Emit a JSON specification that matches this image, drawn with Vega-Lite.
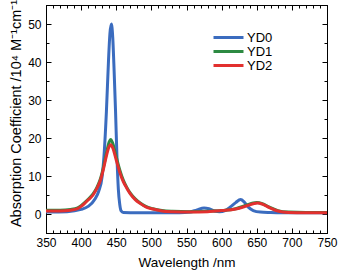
{
  "$schema": "https://vega.github.io/schema/vega-lite/v6.json",
  "width": 281,
  "height": 228,
  "autosize": {"type": "none"},
  "padding": {"left": 46, "top": 5, "right": 11, "bottom": 38},
  "background": "white",
  "config": {
    "font": "Liberation Sans",
    "view": {"stroke": "black", "strokeWidth": 1},
    "axis": {
      "domainColor": "black",
      "tickColor": "black",
      "labelColor": "black",
      "titleColor": "black",
      "labelFont": "Liberation Sans",
      "titleFont": "Liberation Sans",
      "labelFontSize": 12,
      "titleFontSize": 13.5,
      "titleFontWeight": "normal",
      "grid": false,
      "tickWidth": 1
    }
  },
  "data": {
    "values": [
      {"series": "YD0", "wl": 350, "abs": 0.5},
      {"series": "YD0", "wl": 380, "abs": 0.6},
      {"series": "YD0", "wl": 400, "abs": 1.2},
      {"series": "YD0", "wl": 410, "abs": 2.0},
      {"series": "YD0", "wl": 420, "abs": 4.0},
      {"series": "YD0", "wl": 425, "abs": 6.0},
      {"series": "YD0", "wl": 430, "abs": 10.0},
      {"series": "YD0", "wl": 433, "abs": 16.5},
      {"series": "YD0", "wl": 436, "abs": 27.0},
      {"series": "YD0", "wl": 439, "abs": 40.5},
      {"series": "YD0", "wl": 441, "abs": 47.5},
      {"series": "YD0", "wl": 443, "abs": 50.0},
      {"series": "YD0", "wl": 445, "abs": 46.5},
      {"series": "YD0", "wl": 447, "abs": 37.5},
      {"series": "YD0", "wl": 449, "abs": 27.0},
      {"series": "YD0", "wl": 451, "abs": 15.0},
      {"series": "YD0", "wl": 453, "abs": 6.5},
      {"series": "YD0", "wl": 455, "abs": 2.5},
      {"series": "YD0", "wl": 457, "abs": 0.8},
      {"series": "YD0", "wl": 460, "abs": 0.4},
      {"series": "YD0", "wl": 480, "abs": 0.3},
      {"series": "YD0", "wl": 500, "abs": 0.3},
      {"series": "YD0", "wl": 540, "abs": 0.3},
      {"series": "YD0", "wl": 555, "abs": 0.5},
      {"series": "YD0", "wl": 565, "abs": 1.1},
      {"series": "YD0", "wl": 575, "abs": 1.6},
      {"series": "YD0", "wl": 582, "abs": 1.4},
      {"series": "YD0", "wl": 590, "abs": 0.8},
      {"series": "YD0", "wl": 597, "abs": 0.6},
      {"series": "YD0", "wl": 605, "abs": 0.9},
      {"series": "YD0", "wl": 612, "abs": 1.8},
      {"series": "YD0", "wl": 620, "abs": 3.0},
      {"series": "YD0", "wl": 627, "abs": 3.8},
      {"series": "YD0", "wl": 632, "abs": 3.2},
      {"series": "YD0", "wl": 638, "abs": 1.8},
      {"series": "YD0", "wl": 645, "abs": 0.9},
      {"series": "YD0", "wl": 655, "abs": 0.5},
      {"series": "YD0", "wl": 670, "abs": 0.4},
      {"series": "YD0", "wl": 700, "abs": 0.3},
      {"series": "YD0", "wl": 750, "abs": 0.3},

      {"series": "YD1", "wl": 350, "abs": 1.0},
      {"series": "YD1", "wl": 370, "abs": 1.0},
      {"series": "YD1", "wl": 385, "abs": 1.2},
      {"series": "YD1", "wl": 395, "abs": 1.6},
      {"series": "YD1", "wl": 400, "abs": 2.2},
      {"series": "YD1", "wl": 405, "abs": 3.0},
      {"series": "YD1", "wl": 410, "abs": 3.9},
      {"series": "YD1", "wl": 417, "abs": 5.3},
      {"series": "YD1", "wl": 422, "abs": 6.8},
      {"series": "YD1", "wl": 427, "abs": 9.0},
      {"series": "YD1", "wl": 432, "abs": 12.5},
      {"series": "YD1", "wl": 436, "abs": 16.0},
      {"series": "YD1", "wl": 440, "abs": 19.0},
      {"series": "YD1", "wl": 442, "abs": 19.6},
      {"series": "YD1", "wl": 445, "abs": 18.6},
      {"series": "YD1", "wl": 450, "abs": 15.0},
      {"series": "YD1", "wl": 455, "abs": 11.6},
      {"series": "YD1", "wl": 460, "abs": 8.9},
      {"series": "YD1", "wl": 465, "abs": 7.0},
      {"series": "YD1", "wl": 470, "abs": 5.5},
      {"series": "YD1", "wl": 477, "abs": 4.0},
      {"series": "YD1", "wl": 484, "abs": 2.9},
      {"series": "YD1", "wl": 492, "abs": 2.0},
      {"series": "YD1", "wl": 502, "abs": 1.4},
      {"series": "YD1", "wl": 515, "abs": 0.9},
      {"series": "YD1", "wl": 530, "abs": 0.7},
      {"series": "YD1", "wl": 555, "abs": 0.6},
      {"series": "YD1", "wl": 580, "abs": 0.7},
      {"series": "YD1", "wl": 600, "abs": 0.9},
      {"series": "YD1", "wl": 620, "abs": 1.4},
      {"series": "YD1", "wl": 635, "abs": 2.3},
      {"series": "YD1", "wl": 645, "abs": 2.9},
      {"series": "YD1", "wl": 650, "abs": 3.0},
      {"series": "YD1", "wl": 658, "abs": 2.7},
      {"series": "YD1", "wl": 668, "abs": 1.8},
      {"series": "YD1", "wl": 680, "abs": 0.9},
      {"series": "YD1", "wl": 695, "abs": 0.5},
      {"series": "YD1", "wl": 720, "abs": 0.4},
      {"series": "YD1", "wl": 750, "abs": 0.4},

      {"series": "YD2", "wl": 350, "abs": 0.8},
      {"series": "YD2", "wl": 370, "abs": 0.8},
      {"series": "YD2", "wl": 385, "abs": 1.0},
      {"series": "YD2", "wl": 395, "abs": 1.4},
      {"series": "YD2", "wl": 400, "abs": 2.0},
      {"series": "YD2", "wl": 405, "abs": 2.8},
      {"series": "YD2", "wl": 410, "abs": 3.7},
      {"series": "YD2", "wl": 417, "abs": 5.0},
      {"series": "YD2", "wl": 422, "abs": 6.6},
      {"series": "YD2", "wl": 427, "abs": 8.6},
      {"series": "YD2", "wl": 432, "abs": 12.0},
      {"series": "YD2", "wl": 436, "abs": 15.3},
      {"series": "YD2", "wl": 440, "abs": 17.8},
      {"series": "YD2", "wl": 442, "abs": 18.2},
      {"series": "YD2", "wl": 445, "abs": 17.4},
      {"series": "YD2", "wl": 450, "abs": 14.2},
      {"series": "YD2", "wl": 455, "abs": 11.0},
      {"series": "YD2", "wl": 460, "abs": 8.5},
      {"series": "YD2", "wl": 465, "abs": 6.8},
      {"series": "YD2", "wl": 470, "abs": 5.3},
      {"series": "YD2", "wl": 477, "abs": 3.8},
      {"series": "YD2", "wl": 484, "abs": 2.8},
      {"series": "YD2", "wl": 492, "abs": 1.9},
      {"series": "YD2", "wl": 502, "abs": 1.3},
      {"series": "YD2", "wl": 515, "abs": 0.8},
      {"series": "YD2", "wl": 530, "abs": 0.6},
      {"series": "YD2", "wl": 555, "abs": 0.5},
      {"series": "YD2", "wl": 580, "abs": 0.6},
      {"series": "YD2", "wl": 600, "abs": 0.9},
      {"series": "YD2", "wl": 620, "abs": 1.3},
      {"series": "YD2", "wl": 635, "abs": 2.1},
      {"series": "YD2", "wl": 645, "abs": 2.7},
      {"series": "YD2", "wl": 651, "abs": 2.9},
      {"series": "YD2", "wl": 658, "abs": 2.6},
      {"series": "YD2", "wl": 668, "abs": 1.7},
      {"series": "YD2", "wl": 680, "abs": 0.8},
      {"series": "YD2", "wl": 695, "abs": 0.4},
      {"series": "YD2", "wl": 720, "abs": 0.3},
      {"series": "YD2", "wl": 750, "abs": 0.3}
    ]
  },
  "layer": [
    {
      "mark": {"type": "line", "strokeWidth": 3, "interpolate": "monotone"},
      "encoding": {
        "x": {
          "field": "wl", "type": "quantitative",
          "scale": {"domain": [350, 750], "nice": false, "zero": false},
          "axis": {
            "orient": "bottom",
            "title": "Wavelength /nm",
            "values": [350,360,370,380,390,400,410,420,430,440,450,460,470,480,490,500,510,520,530,540,550,560,570,580,590,600,610,620,630,640,650,660,670,680,690,700,710,720,730,740,750],
            "labelExpr": "datum.value % 50 === 0 ? datum.label : ''",
            "tickSize": {"condition": {"test": "datum.value % 50 === 0", "value": -5}, "value": -3},
            "labelPadding": 9,
            "titlePadding": 7,
            "labelFlush": false
          }
        },
        "y": {
          "field": "abs", "type": "quantitative",
          "scale": {"domain": [-5, 55], "nice": false, "zero": false},
          "axis": {
            "orient": "left",
            "title": "Absorption Coefficient /10⁴ M⁻¹cm⁻¹",
            "titleFontSize": 14.5,
            "titleY": 108,
            "values": [-5,0,5,10,15,20,25,30,35,40,45,50,55],
            "labelExpr": "datum.value % 10 === 0 ? datum.label : ''",
            "tickSize": {"condition": {"test": "datum.value % 10 === 0", "value": -5}, "value": -3},
            "labelPadding": 10,
            "titlePadding": 4,
            "labelFlush": false
          }
        },
        "color": {
          "field": "series", "type": "nominal",
          "scale": {"domain": ["YD0", "YD1", "YD2"], "range": ["#3b6cbf", "#2d8a42", "#e2302f"]},
          "legend": {
            "title": null,
            "orient": "none",
            "legendX": 166,
            "legendY": 26,
            "symbolType": "M-1,0L5,0",
            "symbolSize": 100,
            "symbolStrokeWidth": 3,
            "labelFontSize": 13,
            "labelFont": "Liberation Sans",
            "labelColor": "black",
            "labelOffset": 22,
            "rowPadding": 0
          }
        }
      }
    },
    {
      "mark": {"type": "line", "strokeOpacity": 0},
      "encoding": {
        "x": {
          "field": "wl", "type": "quantitative",
          "axis": {
            "orient": "top",
            "title": null,
            "values": [350,360,370,380,390,400,410,420,430,440,450,460,470,480,490,500,510,520,530,540,550,560,570,580,590,600,610,620,630,640,650,660,670,680,690,700,710,720,730,740,750],
            "labels": false,
            "tickSize": {"condition": {"test": "datum.value % 50 === 0", "value": -5}, "value": -3}
          }
        },
        "y": {
          "field": "abs", "type": "quantitative",
          "axis": {
            "orient": "right",
            "title": null,
            "values": [-5,0,5,10,15,20,25,30,35,40,45,50,55],
            "labels": false,
            "tickSize": {"condition": {"test": "datum.value % 10 === 0", "value": -5}, "value": -3}
          }
        },
        "detail": {"field": "series", "type": "nominal"}
      }
    }
  ],
  "resolve": {"axis": {"x": "independent", "y": "independent"}}
}
